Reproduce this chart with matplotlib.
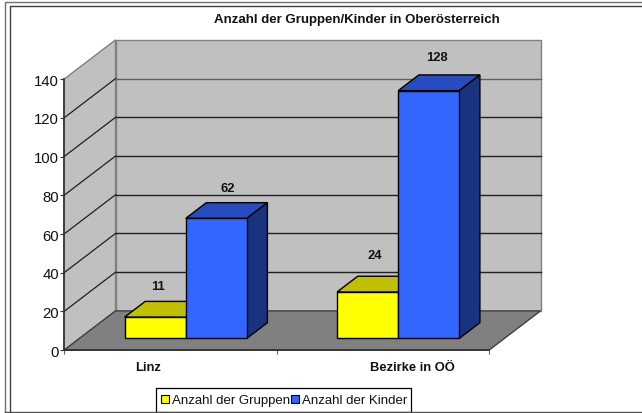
import matplotlib
matplotlib.use("Agg")
import matplotlib.pyplot as plt
from matplotlib.lines import Line2D
from matplotlib.patches import Patch, Polygon, Rectangle

plt.rcParams["font.family"] = ["Liberation Sans", "DejaVu Sans"]

categories = ["Linz", "Bezirke in OÖ"]
gruppen = [11, 24]
kinder = [62, 128]
series_names = ["Anzahl der Gruppen", "Anzahl der Kinder"]
y_ticks = [0, 20, 40, 60, 80, 100, 120, 140]
title = "Anzahl der Gruppen/Kinder in Oberösterreich"

W, H = 642, 414
DX, DY = 0.2424, 20.3  # oblique offset of the full depth, in data units
BAR_W = 0.2875
BAR_D0, BAR_D1 = 0.30, 0.70


def project(x, y, d=0.0):
    return (x + d * DX, y + d * DY)


def face(ax, pts, color, z, edge="black", lw=1.0):
    ax.add_patch(Polygon(pts, closed=True, facecolor=color, edgecolor=edge,
                         linewidth=lw, zorder=z, clip_on=False, joinstyle="miter"))


def bar3d(ax, x0, x1, val, front, top, side, z):
    a, b = BAR_D0, BAR_D1
    face(ax, [project(x0, 0, a), project(x1, 0, a), project(x1, val, a), project(x0, val, a)], front, z + 0.2)
    face(ax, [project(x0, val, a), project(x1, val, a), project(x1, val, b), project(x0, val, b)], top, z)
    face(ax, [project(x1, 0, a), project(x1, 0, b), project(x1, val, b), project(x1, val, a)], side, z)


fig = plt.figure(figsize=(W / 100, H / 100), dpi=100, facecolor="white")

# outer frame of the chart
for xs, ys, c in [
    ([5.5, 5.5, 642], [414, 2.5, 2.5], "#707070"),
    ([10.5, 10.5, 642], [414, 6.5, 6.5], "#404040"),
    ([5.5, 642], [413, 413], "#505050"),
]:
    fig.add_artist(Line2D([x / W for x in xs], [1 - y / H for y in ys], color=c, lw=1.0))

ax = fig.add_axes([64 / W, 1 - 351.2 / H, 425 / W, 271.0 / H])
ax.set_xlim(0, 2)
ax.set_ylim(0, 140)
ax.patch.set_alpha(0)

# walls and floor
wall = "#C0C0C0"
face(ax, [project(0, 0, 1), project(2, 0, 1), project(2, 140, 1), project(0, 140, 1)], wall, 1, edge="#808080")
face(ax, [project(0, 0), project(0, 0, 1), project(0, 140, 1), project(0, 140)], wall, 1, edge="#808080")
face(ax, [project(0, 0), project(2, 0), project(2, 0, 1), project(0, 0, 1)], "#808080", 1.5, edge="#404040")

for t in y_ticks[1:-1]:
    side = [project(0, t), project(0, t, 1)]
    ax.plot(*zip(*side), color="#202020", lw=0.9, zorder=1.2, clip_on=False)
for t in y_ticks[1:-1]:
    c = "#606060" if t >= 100 and t != 100 else "#202020"
    back = [project(0, t, 1), project(2, t, 1)]
    ax.plot(*zip(*back), color=c, lw=1.0, zorder=1.2, clip_on=False)

# bars
yellow = ("#FFFF00", "#C0C000", "#C0C000")
blue = ("#3366FF", "#264CBF", "#19337F")
for i in range(len(categories)):
    left = i + 0.5 - BAR_W
    bar3d(ax, left, left + BAR_W, gruppen[i], *yellow, z=2 + i)
    bar3d(ax, left + BAR_W, left + 2 * BAR_W, kinder[i], *blue, z=2.5 + i)

# value labels
label_offsets = [(3, 31), (12, 30.5), (7, 37), (8, 34)]
label_vals = [(0, 0, gruppen[0]), (0, 1, kinder[0]), (1, 0, gruppen[1]), (1, 1, kinder[1])]
for (i, s, v), off in zip(label_vals, label_offsets):
    cx = i + 0.5 - BAR_W / 2 + s * BAR_W
    ax.annotate(str(v), xy=project(cx, v, BAR_D0), xytext=(off[0] * 0.72, off[1] * 0.72),
                textcoords="offset points", ha="center", va="center", fontsize=9.4,
                fontweight="bold", color="#111111", zorder=10, annotation_clip=False)

# axes
for name in ("top", "right"):
    ax.spines[name].set_visible(False)
for name in ("left", "bottom"):
    ax.spines[name].set_color("#303030")
    ax.spines[name].set_linewidth(1.2)
    ax.spines[name].set_zorder(1.8)
ax.set_yticks(y_ticks)
ax.set_xticks([0, 1, 2])
ax.set_xticklabels([])
ax.tick_params(axis="y", labelsize=10.7, length=3, width=0.8, color="#303030", pad=0.5, labelcolor="#111111")
ax.tick_params(axis="x", length=3, width=0.8, color="#606060")

cat_pos = [0.395, 1.64]
for p, c in zip(cat_pos, categories):
    ax.text(p, -16.5 / 271.0, c, transform=ax.get_xaxis_transform(), ha="center", va="center",
            fontsize=9.4, fontweight="bold", color="#111111", clip_on=False)

fig.text(356.5 / W, 1 - 19.5 / H, title, ha="center", va="center", fontsize=9.5,
         fontweight="bold", color="#111111")

# legend box is a bit taller than its entries, the text runs up against the markers
fig.add_artist(Rectangle((155.5 / W, 1 - 412.7 / H), 255.5 / W, 23.4 / H, transform=fig.transFigure,
                         facecolor="white", edgecolor="black", lw=0.9))
handles = [Patch(facecolor="#FFFF00", edgecolor="black", lw=0.8),
           Patch(facecolor="#3366FF", edgecolor="black", lw=0.8)]
fig.legend(handles, series_names, ncol=2, loc="center left",
           bbox_to_anchor=(160.5 / W, 1 - 401.5 / H), bbox_transform=fig.transFigure,
           borderaxespad=0, fontsize=9.5, frameon=False, columnspacing=0.0,
           handlelength=0.62, handleheight=0.62, handletextpad=0.28, borderpad=0,
           labelcolor="#111111")

fig.savefig("out.png", dpi=100)
plt.close(fig)
